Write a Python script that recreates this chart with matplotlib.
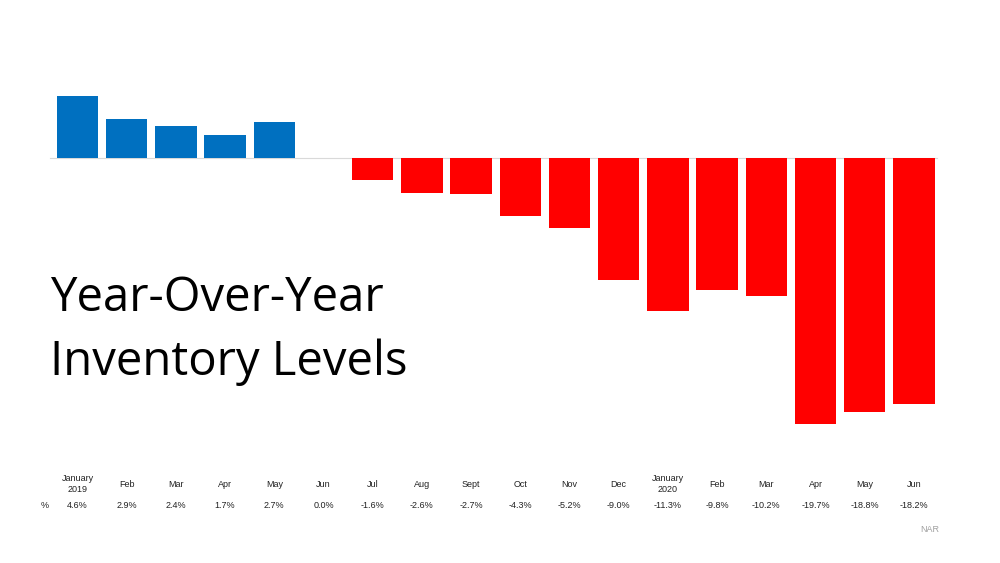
import matplotlib
matplotlib.use("Agg")
import matplotlib.pyplot as plt

months = ["January\n2019", "Feb", "Mar", "Apr", "May", "Jun", "Jul", "Aug", "Sept",
          "Oct", "Nov", "Dec", "January\n2020", "Feb", "Mar", "Apr", "May", "Jun"]
values = [4.6, 2.9, 2.4, 1.7, 2.7, 0.0, -1.6, -2.6, -2.7, -4.3, -5.2, -9.0,
          -11.3, -9.8, -10.2, -19.7, -18.8, -18.2]

W, H = 1000, 563
fig = plt.figure(figsize=(W / 100, H / 100), dpi=100)
ax = fig.add_axes([0, 0, 1, 1])

# pixel mapping: first bar centre 77.5px, spacing 49.2px; zero at y=158px, 13.5px per unit
x0, dx = 77.5, 49.2
y0, sy = 158, 13.5
ax.set_xlim(-x0 / dx, (W - x0) / dx)
ax.set_ylim(-(H - y0) / sy, y0 / sy)
ax.axis("off")

xs = list(range(len(values)))
colors = ["#0070C0" if v > 0 else "#FF0000" for v in values]
ax.bar(xs, values, width=0.84, color=colors, zorder=2)
ax.plot([(50 - x0) / dx, (937 - x0) / dx], [0, 0], color="#d9d9d9", lw=0.8, zorder=1)

lab_y = -(484 - y0) / sy
pct_y = -(505 - y0) / sy
for x, m, v in zip(xs, months, values):
    ax.text(x, lab_y, m, ha="center", va="center", fontsize=6.5,
            family="Liberation Sans", color="#222222", linespacing=1.3)
    ax.text(x, pct_y, f"{v:.1f}%", ha="center", va="center", fontsize=6.5,
            family="Liberation Sans", color="#222222")
ax.text((45 - x0) / dx, pct_y, "%", ha="center", va="center", fontsize=6.5,
        family="Liberation Sans", color="#222222")

fig.text(50 / W, 1 - 330 / H, "Year-Over-Year\nInventory Levels", ha="left", va="center",
         fontsize=34, family="Open Sans", color="black", linespacing=1.45)
fig.text(930 / W, 1 - 530 / H, "NAR", ha="center", va="center", fontsize=6.5,
         family="Liberation Sans", color="#a0a0a0")

fig.savefig("out.png", dpi=100)
